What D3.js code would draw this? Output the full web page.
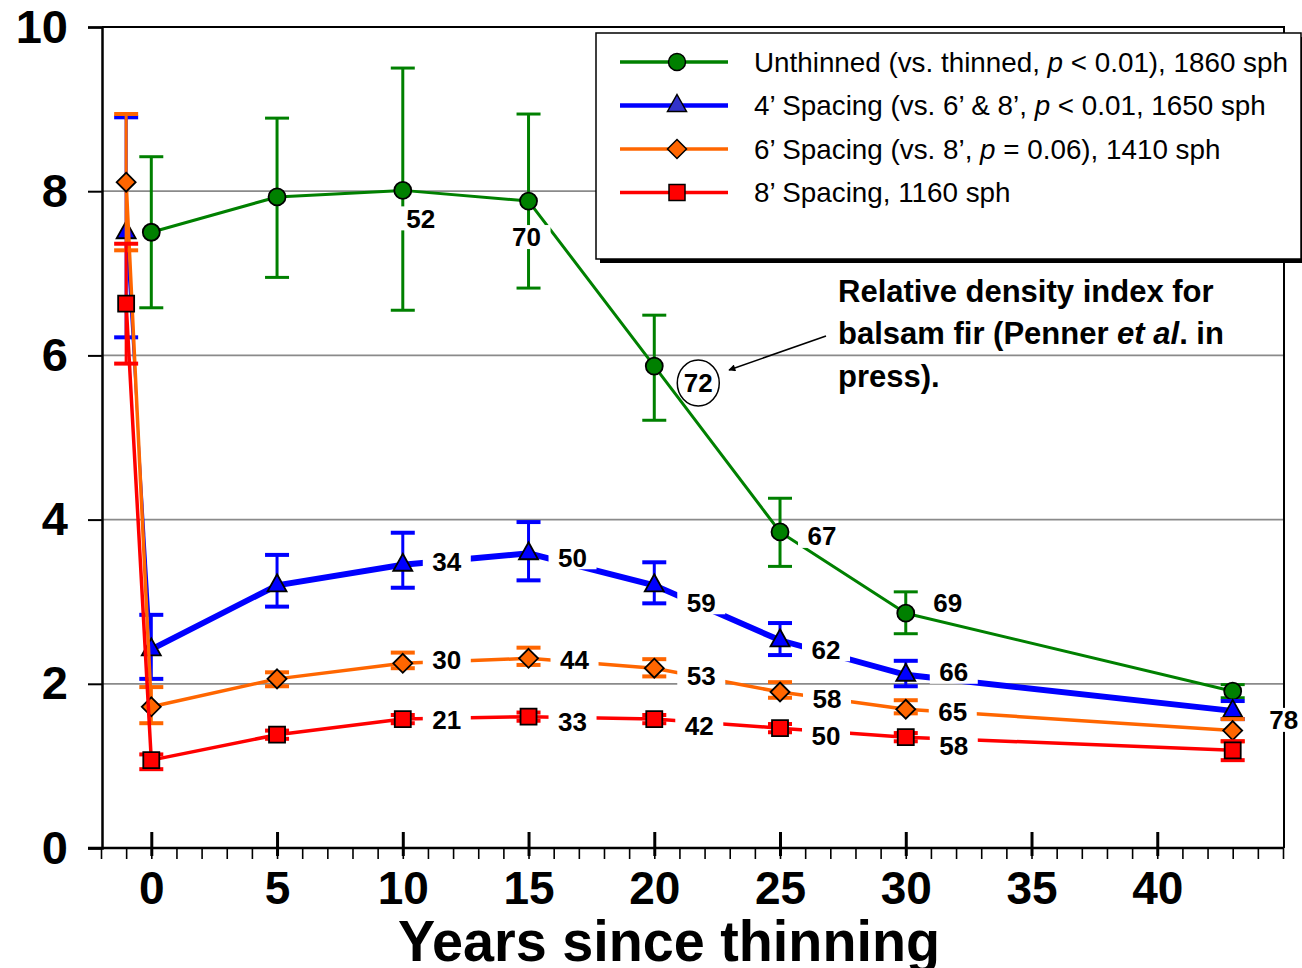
<!DOCTYPE html>
<html>
<head>
<meta charset="utf-8">
<script src="https://cdnjs.cloudflare.com/ajax/libs/d3/7.8.5/d3.min.js"></script>
<style>
  body { margin: 0; background: #fff; }
  text { font-family: "Liberation Sans", Arial, sans-serif; }
</style>
</head>
<body>
<div id="chart"></div>
<script>
// years since thinning
var yearsGreen = [0, 5, 10, 15, 20, 25, 30, 43];
var yearsThin = [-1, 0, 5, 10, 15, 20, 25, 30, 43];

// unthinned
var greenMean = [7.50, 7.93, 8.01, 7.88, 5.87, 3.85, 2.86, 1.91];
var greenHi   = [8.42, 8.89, 9.50, 8.94, 6.49, 4.26, 3.12, 1.99];
var greenLo   = [6.58, 6.95, 6.55, 6.82, 5.21, 3.43, 2.61, 1.83];
var greenRdi  = [null, null, 52, 70, 72, 67, 69, null];

// 4' spacing
var blueMean = [7.50, 2.42, 3.20, 3.45, 3.59, 3.20, 2.53, 2.11, 1.67];
var blueHi   = [8.90, 2.84, 3.57, 3.84, 3.97, 3.48, 2.74, 2.28, 1.79];
var blueLo   = [6.22, 2.06, 2.94, 3.17, 3.26, 2.98, 2.35, 1.97, 1.57];
var blueRdi  = [null, null, null, 34, 50, 59, 62, 66, 78];

// 6' spacing
var orangeMean = [8.11, 1.72, 2.06, 2.25, 2.31, 2.19, 1.90, 1.69, 1.43];
var orangeHi   = [8.94, 1.96, 2.14, 2.38, 2.44, 2.30, 2.02, 1.80, 1.57];
var orangeLo   = [7.28, 1.52, 1.97, 2.19, 2.23, 2.09, 1.83, 1.64, 1.30];
var orangeRdi  = [null, null, null, 30, 44, 53, 58, 65, null];

// 8' spacing
var redMean = [6.63, 1.07, 1.38, 1.57, 1.60, 1.57, 1.46, 1.35, 1.19];
var redHi   = [7.36, 1.14, 1.43, 1.62, 1.65, 1.62, 1.51, 1.40, 1.30];
var redLo   = [5.90, 0.96, 1.33, 1.52, 1.55, 1.52, 1.41, 1.30, 1.07];
var redRdi  = [null, null, null, 21, 33, 42, 50, 58, null];

var yTicks = [0, 2, 4, 6, 8, 10];
var xTicks = [0, 5, 10, 15, 20, 25, 30, 35, 40];

var legendParts = [
  ["Unthinned (vs. thinned, ", "p", " < 0.01), 1860 sph"],
  ["4\u2019 Spacing (vs. 6\u2019 & 8\u2019, ", "p", " < 0.01, 1650 sph"],
  ["6\u2019 Spacing (vs. 8\u2019, ", "p", " = 0.06), 1410 sph"],
  ["8\u2019 Spacing, 1160 sph", "", ""]
];

var width = 1302;
var height = 968;

var svg = d3.select("#chart")
  .append("svg")
  .attr("width", width)
  .attr("height", height)

var x = d3.scaleLinear().domain([-2, 45]).range([101, 1283])
var y = d3.scaleLinear().domain([0, 10]).range([848, 27])

// gridlines
svg.append("g")
  .selectAll("line")
  .data([2, 4, 6, 8])
  .enter()
  .append("line")
  .attr("x1", 102).attr("x2", 1284)
  .attr("y1", function (d) { return y(d) })
  .attr("y2", function (d) { return y(d) })
  .attr("stroke", "#8a8a8a")
  .attr("stroke-width", 1.8)

// frame top + right
svg.append("path")
  .attr("d", "M102," + y(10) + "H1284V" + y(0))
  .attr("fill", "none")
  .attr("stroke", "#000")
  .attr("stroke-width", 2)

// y axis
var yAxis = svg.append("g")
  .attr("transform", "translate(102,0)")
  .call(d3.axisLeft(y).tickValues(yTicks).tickSize(14).tickPadding(20).tickFormat(d3.format("d")))
yAxis.select(".domain").attr("stroke-width", 2.5)
yAxis.selectAll("line").attr("stroke-width", 2)
yAxis.selectAll("text")
  .style("font-size", "47px")
  .style("font-weight", "bold")
  .attr("fill", "#000")

// x axis minor ticks
var xMinor = svg.append("g")
  .attr("transform", "translate(0," + y(0) + ")")
  .call(d3.axisBottom(x).tickValues(d3.range(-2, 46)).tickSize(11).tickFormat(""))
xMinor.select(".domain").attr("d", "M88,0H1284").attr("stroke-width", 2.5)
xMinor.selectAll("line").attr("stroke-width", 1.6)

// x axis major ticks + labels
var xAxis = svg.append("g")
  .attr("transform", "translate(0," + y(0) + ")")
  .call(d3.axisBottom(x).tickValues(xTicks).tickSize(8).tickPadding(15))
xAxis.select(".domain").remove()
xAxis.selectAll("line").attr("y1", -16).attr("stroke-width", 3)
xAxis.selectAll("text")
  .style("font-size", "46px")
  .style("font-weight", "bold")
  .attr("fill", "#000")

svg.append("text")
  .attr("x", 669)
  .attr("y", 961)
  .attr("text-anchor", "middle")
  .attr("textLength", 542)
  .attr("lengthAdjust", "spacingAndGlyphs")
  .style("font-size", "58px")
  .style("font-weight", "bold")
  .text("Years since thinning")

// series
var series = [
  { years: yearsGreen, mean: greenMean, hi: greenHi, lo: greenLo, rdi: greenRdi, color: "#008000", lw: 3, ew: 3, shape: "circle",
    offsets: [null, null, [18, 28], [-2, 36], [44, 17], [42, 4], [42, -11], null] },
  { years: yearsThin, mean: blueMean, hi: blueHi, lo: blueLo, rdi: blueRdi, color: "#0000ff", lw: 6, ew: 4, shape: "triangle",
    offsets: [null, null, null, [44, -3], [44, 4], [47, 17], [46, 9], [48, -3], [51, 9]] },
  { years: yearsThin, mean: orangeMean, hi: orangeHi, lo: orangeLo, rdi: orangeRdi, color: "#ff6600", lw: 3.5, ew: 4, shape: "diamond",
    offsets: [null, null, null, [44, -4], [46, 1], [47, 7], [47, 7], [47, 2], null] },
  { years: yearsThin, mean: redMean, hi: redHi, lo: redLo, rdi: redRdi, color: "#ff0000", lw: 3.5, ew: 4, shape: "square",
    offsets: [null, null, null, [44, 1], [44, 5], [45, 7], [46, 8], [48, 8], null] }
];

function shapePath(shape) {
  if (shape === "triangle") return "M0,-11L9.5,6L-9.5,6Z";
  if (shape === "diamond") return "M0,-9.5L9.5,0L0,9.5L-9.5,0Z";
  if (shape === "square") return "M-8,-8H8V8H-8Z";
  return d3.symbol().type(d3.symbolCircle).size(Math.PI * 8.5 * 8.5)();
}

var line = d3.line()
  .x(function (d) { return x(d[0]) })
  .y(function (d) { return y(d[1]) })

series.forEach(function (s) {
  var g = svg.append("g")
  var pts = s.years.map(function (t, i) { return [t, s.mean[i], s.hi[i], s.lo[i]] })

  // error bars
  var eb = g.selectAll(".eb")
    .data(pts)
    .enter()
    .append("g")
    .attr("stroke", s.color)
    .attr("stroke-width", s.ew)
  eb.append("line")
    .attr("x1", function (d) { return x(d[0]) }).attr("x2", function (d) { return x(d[0]) })
    .attr("y1", function (d) { return y(d[2]) }).attr("y2", function (d) { return y(d[3]) })
    .attr("stroke-width", 3)
  eb.append("line")
    .attr("x1", function (d) { return x(d[0]) - 12 }).attr("x2", function (d) { return x(d[0]) + 12 })
    .attr("y1", function (d) { return y(d[2]) }).attr("y2", function (d) { return y(d[2]) })
  eb.append("line")
    .attr("x1", function (d) { return x(d[0]) - 12 }).attr("x2", function (d) { return x(d[0]) + 12 })
    .attr("y1", function (d) { return y(d[3]) }).attr("y2", function (d) { return y(d[3]) })

  // line (first drop segment of 4' drawn thinner)
  if (s.shape === "triangle") {
    g.append("path").attr("d", line(pts.slice(0, 2)))
      .attr("fill", "none").attr("stroke", s.color).attr("stroke-width", 2)
    g.append("path").attr("d", line(pts.slice(1)))
      .attr("fill", "none").attr("stroke", s.color).attr("stroke-width", s.lw)
  } else {
    g.append("path").attr("d", line(pts))
      .attr("fill", "none").attr("stroke", s.color).attr("stroke-width", s.lw)
      .attr("stroke-linejoin", "round")
  }

  // markers
  g.selectAll(".mk")
    .data(pts)
    .enter()
    .append("path")
    .attr("d", shapePath(s.shape))
    .attr("transform", function (d) { return "translate(" + x(d[0]) + "," + y(d[1]) + ")" })
    .attr("fill", s.color)
    .attr("stroke", "#000")
    .attr("stroke-width", 1.8)
})

// relative density labels
series.forEach(function (s) {
  s.years.forEach(function (t, i) {
    if (s.rdi[i] == null) return;
    var cx = x(t) + s.offsets[i][0]
    var cy = y(s.mean[i]) + s.offsets[i][1]
    var circled = (s.rdi[i] === 72)
    if (circled) {
      svg.append("ellipse")
        .attr("cx", cx).attr("cy", cy).attr("rx", 21).attr("ry", 23)
        .attr("fill", "#fff").attr("stroke", "#000").attr("stroke-width", 1.5)
    } else {
      svg.append("rect")
        .attr("x", cx - 24).attr("y", cy - 12).attr("width", 48).attr("height", 24)
        .attr("fill", "#fff")
    }
    svg.append("text")
      .attr("x", cx).attr("y", cy).attr("dy", "0.36em")
      .attr("text-anchor", "middle")
      .style("font-size", "26px")
      .style("font-weight", "bold")
      .text(s.rdi[i])
  })
})

// annotation
var note = svg.append("text")
  .style("font-size", "31px")
  .style("font-weight", "bold")
note.append("tspan").attr("x", 838).attr("y", 302).text("Relative density index for")
var l2 = note.append("tspan").attr("x", 838).attr("y", 344)
l2.append("tspan").text("balsam fir (Penner ")
l2.append("tspan").style("font-style", "italic").text("et al")
l2.append("tspan").text(". in")
note.append("tspan").attr("x", 838).attr("y", 387).text("press).")

svg.append("defs").append("marker")
  .attr("id", "arrow")
  .attr("viewBox", "0 0 10 10")
  .attr("refX", 9).attr("refY", 5)
  .attr("markerWidth", 9).attr("markerHeight", 7)
  .attr("markerUnits", "userSpaceOnUse")
  .attr("orient", "auto")
  .append("path").attr("d", "M0,0L10,5L0,10Z").attr("fill", "#000")

svg.append("line")
  .attr("x1", 826).attr("y1", 336)
  .attr("x2", 729).attr("y2", 370)
  .attr("stroke", "#000").attr("stroke-width", 1.6)
  .attr("marker-end", "url(#arrow)")

// legend
var legend = svg.append("g")
legend.append("rect")
  .attr("x", 600).attr("y", 37).attr("width", 705).attr("height", 226)
  .attr("fill", "#000")
legend.append("rect")
  .attr("x", 596).attr("y", 33).attr("width", 705).attr("height", 226)
  .attr("fill", "#fff").attr("stroke", "#000").attr("stroke-width", 1.5)

var rows = legend.selectAll(".row")
  .data(series)
  .enter()
  .append("g")
  .attr("transform", function (d, i) { return "translate(0," + (62 + i * 43.5) + ")" })
rows.append("line")
  .attr("x1", 620).attr("x2", 728)
  .attr("stroke", function (d) { return d.color })
  .attr("stroke-width", function (d) { return d.shape === "triangle" ? 4.5 : 3.5 })
rows.append("path")
  .attr("d", function (d) { return shapePath(d.shape) })
  .attr("transform", "translate(677,0)")
  .attr("fill", function (d) { return d.shape === "triangle" ? "#3333cc" : d.color })
  .attr("stroke", "#000").attr("stroke-width", 1.5)
var lt = rows.append("text")
  .attr("x", 754).attr("y", 9.5)
  .style("font-size", "27.8px")
lt.each(function (d, i) {
  var t = d3.select(this)
  t.append("tspan").text(legendParts[i][0])
  t.append("tspan").style("font-style", "italic").text(legendParts[i][1])
  t.append("tspan").text(legendParts[i][2])
})
</script>
</body>
</html>
